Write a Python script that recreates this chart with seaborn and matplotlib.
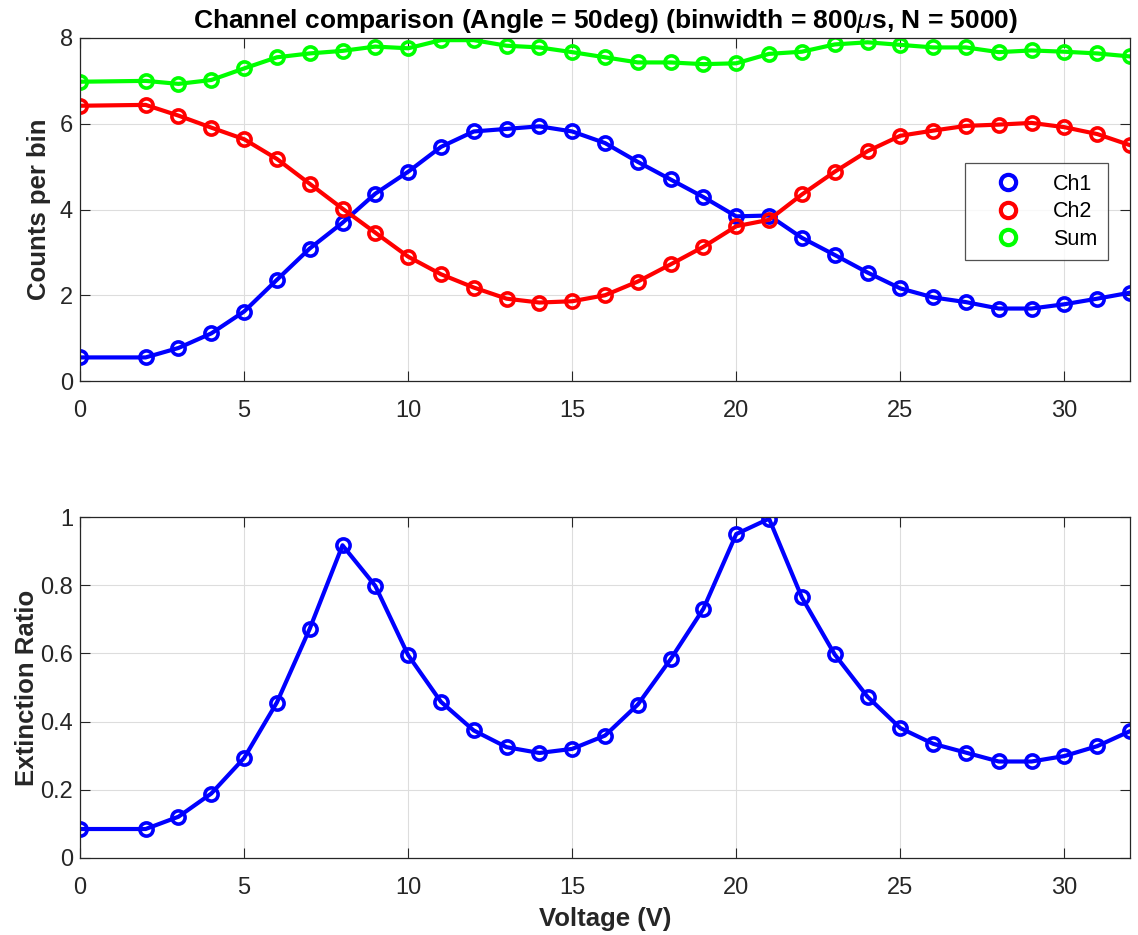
import numpy as np
import pandas as pd
import matplotlib
matplotlib.use("Agg")
import matplotlib.pyplot as plt
import seaborn as sns

voltage = [0, 2, 3, 4, 5, 6, 7, 8, 9, 10, 11, 12, 13, 14, 15, 16, 17, 18, 19, 20,
           21, 22, 23, 24, 25, 26, 27, 28, 29, 30, 31, 32]
ch1 = [0.55, 0.55, 0.77, 1.11, 1.62, 2.36, 3.09, 3.69, 4.37, 4.88, 5.46, 5.82, 5.88, 5.94,
       5.82, 5.55, 5.11, 4.70, 4.29, 3.84, 3.86, 3.34, 2.94, 2.53, 2.16, 1.95, 1.84, 1.69,
       1.69, 1.79, 1.92, 2.06]
ch2 = [6.42, 6.44, 6.19, 5.91, 5.64, 5.18, 4.60, 4.02, 3.46, 2.90, 2.49, 2.18, 1.92, 1.83,
       1.86, 2.00, 2.32, 2.72, 3.13, 3.61, 3.76, 4.35, 4.88, 5.36, 5.72, 5.84, 5.95, 5.98,
       6.02, 5.92, 5.76, 5.50]
total = [6.98, 7.00, 6.93, 7.02, 7.29, 7.55, 7.64, 7.70, 7.80, 7.76, 7.95, 7.95, 7.82, 7.78,
         7.67, 7.55, 7.43, 7.43, 7.39, 7.41, 7.63, 7.68, 7.85, 7.90, 7.84, 7.78, 7.78, 7.67,
         7.71, 7.68, 7.64, 7.57]
ext_ratio = [0.085, 0.085, 0.121, 0.189, 0.293, 0.456, 0.672, 0.917, 0.798, 0.595, 0.458,
             0.374, 0.325, 0.308, 0.320, 0.359, 0.450, 0.583, 0.731, 0.950, 0.995, 0.764,
             0.597, 0.473, 0.381, 0.335, 0.309, 0.283, 0.283, 0.299, 0.328, 0.372]
series_names = ["Ch1", "Ch2", "Sum"]
series_colors = ["#0000ff", "#ff0000", "#00ff00"]

sns.set_theme(style="white")
plt.rcParams['font.family'] = ['Liberation Sans', 'DejaVu Sans']
plt.rcParams['mathtext.fontset'] = 'custom'
plt.rcParams['mathtext.it'] = 'Liberation Sans:italic'
plt.rcParams['mathtext.rm'] = 'Liberation Sans'
plt.rcParams['mathtext.bf'] = 'Liberation Sans:bold'

fig = plt.figure(figsize=(11.38, 9.35), dpi=100)
ax1 = fig.add_axes([80/1138, 1-381/935, 1050/1138, 343/935])
ax2 = fig.add_axes([80/1138, 1-858/935, 1050/1138, 341/935])

df = pd.DataFrame({"Voltage": voltage * 3,
                   "Counts": ch1 + ch2 + total,
                   "Series": [series_names[0]] * len(voltage) + [series_names[1]] * len(voltage)
                             + [series_names[2]] * len(voltage)})

MS = 9.5
MEW = 2.6
for name, col in zip(series_names, series_colors):
    sub = df[df["Series"] == name]
    sns.lineplot(data=sub, x="Voltage", y="Counts", ax=ax1, color=col, linewidth=3,
                 marker="o", markersize=MS, markerfacecolor="none", markeredgecolor=col,
                 markeredgewidth=MEW, label=name)

sns.lineplot(x=voltage, y=ext_ratio, ax=ax2, color="#0000ff", linewidth=3,
             marker="o", markersize=MS, markerfacecolor="none", markeredgecolor="#0000ff",
             markeredgewidth=MEW)

def style(ax):
    ax.set_xlim(0, 32)
    ax.set_xticks([0, 5, 10, 15, 20, 25, 30])
    ax.grid(True, color="#dddddd", linewidth=0.8)
    ax.tick_params(direction="in", length=7, width=0.8, labelsize=17, colors="#262626",
                   top=True, right=True, bottom=True, left=True)
    ax.tick_params(axis="x", pad=13.5)
    ax.tick_params(axis="y", pad=5)
    for s in ax.spines.values():
        s.set_color("#262626")
        s.set_linewidth(0.9)
    ax.set_axisbelow(True)

style(ax1)
style(ax2)
ax1.set_ylim(0, 8)
ax1.set_yticks([0, 2, 4, 6, 8])
ax2.set_ylim(0, 1)
ax2.set_yticks([0, 0.2, 0.4, 0.6, 0.8, 1])
ax2.set_yticklabels(["0", "0.2", "0.4", "0.6", "0.8", "1"])

ax1.set_xlabel("")
ax1.set_ylabel("Counts per bin", fontsize=18.5, fontweight="bold", color="#262626", labelpad=6)
ax2.set_ylabel("Extinction Ratio", fontsize=18.5, fontweight="bold", color="#262626", labelpad=1)
ax2.set_xlabel("Voltage (V)", fontsize=18.5, fontweight="bold", color="#262626", labelpad=6)
ax1.set_title(r"Channel comparison (Angle = 50deg) (binwidth = 800$\mu$s, N = 5000)",
              fontsize=19, fontweight="bold", color="#000000", pad=7)

leg = ax1.legend(loc="upper left", bbox_to_anchor=((965-80)/1050, 1-(163-38)/343),
                 fontsize=15.5, frameon=True, fancybox=False, edgecolor="#262626",
                 handlelength=3, handletextpad=0.6, borderpad=0.5, labelspacing=0.3,
                 borderaxespad=0)
for h in leg.legend_handles:
    h.set_linestyle("none")
    h.set_markersize(11)
    h.set_markeredgewidth(3)
leg.get_frame().set_linewidth(0.9)
for t in leg.get_texts():
    t.set_color("#000000")

fig.savefig("out.png", dpi=100)
